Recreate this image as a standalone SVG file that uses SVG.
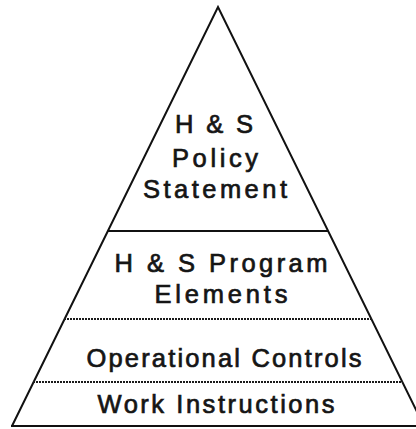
<svg xmlns="http://www.w3.org/2000/svg" width="416" height="429" viewBox="0 0 416 429">
<style>
.edge{fill:none;stroke:#111;stroke-width:2;stroke-linejoin:miter}
.solid{stroke:#111;stroke-width:1.8}
.dot{stroke:#1a1a1a;stroke-width:1.8;stroke-dasharray:2 1}
.lbl{font-family:"Liberation Sans",Arial,sans-serif;font-size:25.5px;fill:#151515;text-anchor:middle;stroke:#151515;stroke-width:0.7}
</style>
<rect width="416" height="429" fill="#fff"/>
<g id="pyramid-outline">
<polyline class="edge" points="12,426 218,7 424,426"/>
</g>
<g id="connectors">
<line class="solid" x1="108" y1="231" x2="328" y2="231"/>
<line class="dot" x1="64" y1="319" x2="372" y2="319"/>
<line class="dot" x1="33" y1="382" x2="403" y2="382"/>
<line class="solid" x1="11" y1="426" x2="416" y2="426"/>
</g>
<g id="policy-statement">
<text class="lbl" x="214" y="133" textLength="78" lengthAdjust="spacing">H &amp; S</text>
<text class="lbl" x="215" y="167" textLength="86" lengthAdjust="spacing">Policy</text>
<text class="lbl" x="215" y="198" textLength="144" lengthAdjust="spacing">Statement</text>
</g>
<g id="program-elements">
<text class="lbl" x="221" y="272" textLength="213" lengthAdjust="spacing">H &amp; S Program</text>
<text class="lbl" x="221" y="303" textLength="133" lengthAdjust="spacing">Elements</text>
</g>
<g id="operational-controls">
<text class="lbl" x="224" y="367" textLength="275" lengthAdjust="spacing">Operational Controls</text>
</g>
<g id="work-instructions">
<text class="lbl" x="216" y="413" textLength="237" lengthAdjust="spacing">Work Instructions</text>
</g>
</svg>
